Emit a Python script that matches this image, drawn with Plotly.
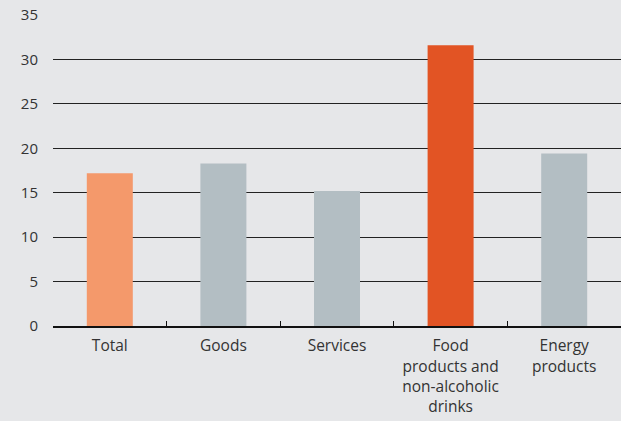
import plotly.graph_objects as go

categories = ["Total", "Goods", "Services", "Food<br>products and<br>non-alcoholic<br>drinks", "Energy<br>products"]
values = [17.2, 18.3, 15.2, 31.6, 19.4]
colors = ["#F4996B", "#B3BEC3", "#B3BEC3", "#E25424", "#B3BEC3"]
y_ticks = [0, 5, 10, 15, 20, 25, 30, 35]

fig = go.Figure(go.Bar(x=categories, y=values, marker_color=colors, marker_line_width=0, width=0.405))

fig.update_layout(
    width=621, height=421,
    margin=dict(l=53, r=0, t=15, b=95),
    paper_bgcolor="#E6E7E9", plot_bgcolor="#E6E7E9",
    font=dict(family="Open Sans", size=14, color="#333333"),
    showlegend=False,
)
fig.update_yaxes(range=[0, 35], tickvals=y_ticks, showgrid=True, gridcolor="#222222", gridwidth=1,
                 zeroline=False, showline=False, ticks="", ticklabelstandoff=14,
                 tickfont=dict(size=15, color="#333333"))
fig.update_xaxes(showline=True, linecolor="#111111", linewidth=1.5, ticks="inside", ticklen=5,
                 tickcolor="#111111", tickson="boundaries", showgrid=False, ticklabelstandoff=5,
                 tickfont=dict(size=15.5, color="#333333"))
fig.write_html("out.html")
